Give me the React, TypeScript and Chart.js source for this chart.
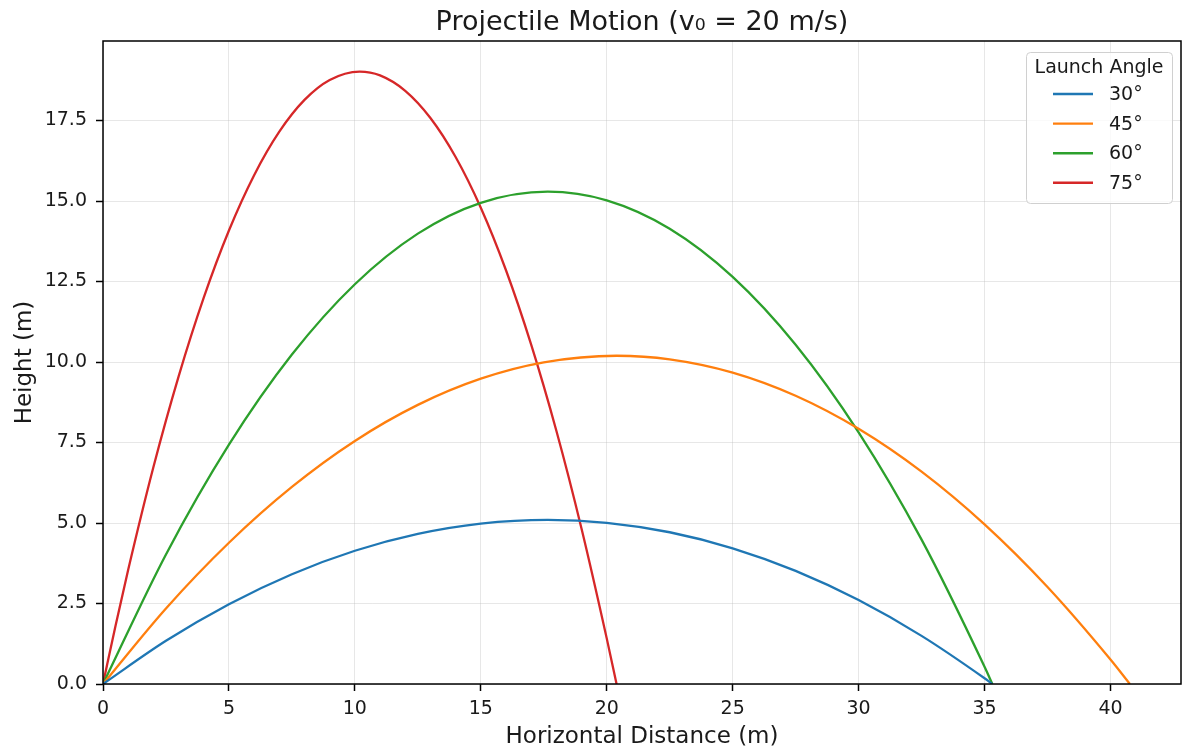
import React, { useEffect, useRef } from 'react';
import { Chart, registerables } from 'chart.js';

Chart.register(...registerables);

const FONT = '"DejaVu Sans", sans-serif';

// Trajectory samples (horizontal distance, height)
const x30 = [0, 2.5, 5, 7.5, 10, 12.5, 15, 17.66, 20, 22.5, 25, 27.5, 30, 32.5, 35, 35.31];
const y30 = [0, 1.341, 2.478, 3.41, 4.139, 4.662, 4.982, 5.097, 5.007, 4.713, 4.215, 3.513, 2.606, 1.494, 0.178, 0];

const x45 = [0, 2.5, 5, 7.5, 10, 12.5, 15, 17.5, 20.39, 22.5, 25, 27.5, 30, 32.5, 35, 37.5, 40, 40.77];
const y45 = [0, 2.347, 4.387, 6.12, 7.548, 8.668, 9.482, 9.989, 10.194, 10.084, 9.672, 8.953, 7.927, 6.595, 4.957, 3.012, 0.76, 0];

const x60 = [0, 2.5, 5, 7.5, 10, 12.5, 15, 17.66, 20, 22.5, 25, 27.5, 30, 32.5, 35, 35.31];
const y60 = [0, 4.024, 7.434, 10.231, 12.416, 13.987, 14.945, 15.291, 15.021, 14.14, 12.645, 10.537, 7.817, 4.484, 0.536, 0];

const x75 = [0, 0.5, 1, 2, 3, 4, 5, 6, 7, 8, 9, 10.19, 11, 12, 13, 14, 15, 16, 17, 18, 19, 20, 20.39];
const y75 = [0, 1.82, 3.549, 6.732, 9.548, 11.999, 14.084, 15.802, 17.154, 18.14, 18.76, 19.021, 18.903, 18.424, 17.58, 16.369, 14.792, 12.85, 10.541, 7.866, 4.824, 1.417, 0];

const angleLabels = ['30°', '45°', '60°', '75°'];
const seriesX = [x30, x45, x60, x75];
const seriesY = [y30, y45, y60, y75];
const colors = ['#1f77b4', '#ff7f0e', '#2ca02c', '#d62728'];

const xTicks = [0, 5, 10, 15, 20, 25, 30, 35, 40];
const yTicks = [0, 2.5, 5, 7.5, 10, 12.5, 15, 17.5];
const xMax = 42.8;
const yMax = 19.97;

const titleText = 'Projectile Motion (v\u2080 = 20 m/s)';
const legendTitle = 'Launch Angle';

const decorPlugin = {
  id: 'decor',
  afterDatasetsDraw(chart: any) {
    const { ctx, chartArea: ca } = chart;
    ctx.save();
    ctx.strokeStyle = '#000';
    ctx.lineWidth = 1.5;
    ctx.strokeRect(ca.left, ca.top, ca.right - ca.left, ca.bottom - ca.top);
    ctx.restore();
  },
  afterDraw(chart: any) {
    const { ctx, chartArea: ca } = chart;
    ctx.save();
    // title
    ctx.fillStyle = '#1a1a1a';
    ctx.font = `27px ${FONT}`;
    ctx.textAlign = 'center';
    ctx.textBaseline = 'middle';
    ctx.fillText(titleText, (ca.left + ca.right) / 2, 23);

    // legend
    const boxW = 146;
    const boxH = 151;
    const bx = ca.right - 9 - boxW;
    const by = ca.top + 11;
    ctx.beginPath();
    (ctx as any).roundRect(bx + 0.5, by + 0.5, boxW, boxH, 4);
    ctx.fillStyle = 'rgba(255,255,255,0.8)';
    ctx.fill();
    ctx.strokeStyle = '#d0d0d0';
    ctx.lineWidth = 1;
    ctx.stroke();

    ctx.fillStyle = '#1a1a1a';
    ctx.font = `19px ${FONT}`;
    ctx.textAlign = 'center';
    ctx.fillText(legendTitle, bx + boxW / 2, by + 16);
    const rowH = 29.6;
    angleLabels.forEach((lab, i) => {
      const y = by + 42 + i * rowH;
      ctx.strokeStyle = colors[i];
      ctx.lineWidth = 2.4;
      ctx.beginPath();
      ctx.moveTo(bx + 27, y);
      ctx.lineTo(bx + 67, y);
      ctx.stroke();
      ctx.fillStyle = '#1a1a1a';
      ctx.textAlign = 'left';
      ctx.fillText(lab, bx + 83, y + 1);
    });
    ctx.restore();
  },
};

export default function App() {
  const ref = useRef<HTMLCanvasElement>(null);
  useEffect(() => {
    document.body.style.margin = '0';
    const datasets = angleLabels.map((lab, i) => ({
      label: lab,
      data: seriesX[i].map((x, j) => ({ x, y: seriesY[i][j] })),
      borderColor: colors[i],
      backgroundColor: colors[i],
      borderWidth: 2.3,
      pointRadius: 0,
      cubicInterpolationMode: 'monotone' as const,
      fill: false,
    }));
    const tickFont = { family: FONT, size: 19 };
    const chart = new Chart(ref.current as HTMLCanvasElement, {
      type: 'line',
      data: { datasets },
      options: {
        responsive: false,
        animation: false,
        devicePixelRatio: 1,
        layout: { padding: { top: 41, right: 2, left: 0, bottom: 0 } },
        plugins: { legend: { display: false }, title: { display: false }, tooltip: { enabled: false } },
        scales: {
          x: {
            type: 'linear',
            min: 0,
            max: xMax,
            afterBuildTicks: (s: any) => {
              s.ticks = xTicks.map((v) => ({ value: v }));
            },
            afterFit: (s: any) => {
              s.height = 67;
            },
            ticks: {
              font: tickFont,
              color: '#1a1a1a',
              padding: 7,
              autoSkip: false,
              maxRotation: 0,
              callback: (v: any) => String(v),
            },
            grid: {
              color: 'rgba(176,176,176,0.3)',
              lineWidth: 1,
              tickColor: '#000',
              tickWidth: 1.5,
              tickLength: 7,
            },
            border: { display: false },
            title: {
              display: true,
              text: 'Horizontal Distance (m)',
              font: { family: FONT, size: 23 },
              color: '#1a1a1a',
              padding: { top: 0, bottom: 0 },
            },
          },
          y: {
            type: 'linear',
            min: 0,
            max: yMax,
            afterBuildTicks: (s: any) => {
              s.ticks = yTicks.map((v) => ({ value: v }));
            },
            afterFit: (s: any) => {
              s.width = 103;
            },
            ticks: {
              font: tickFont,
              color: '#1a1a1a',
              padding: 9,
              autoSkip: false,
              callback: (v: any) => Number(v).toFixed(1),
            },
            grid: {
              color: 'rgba(176,176,176,0.3)',
              lineWidth: 1,
              tickColor: '#000',
              tickWidth: 1.5,
              tickLength: 7,
            },
            border: { display: false },
            title: {
              display: true,
              text: 'Height (m)',
              font: { family: FONT, size: 23 },
              color: '#1a1a1a',
              padding: { top: 11, bottom: 0 },
            },
          },
        },
      },
      plugins: [decorPlugin],
    });
    return () => chart.destroy();
  }, []);
  return (
    <div style={{ width: 1183, height: 751 }}>
      <canvas ref={ref} width={1183} height={751} />
    </div>
  );
}
